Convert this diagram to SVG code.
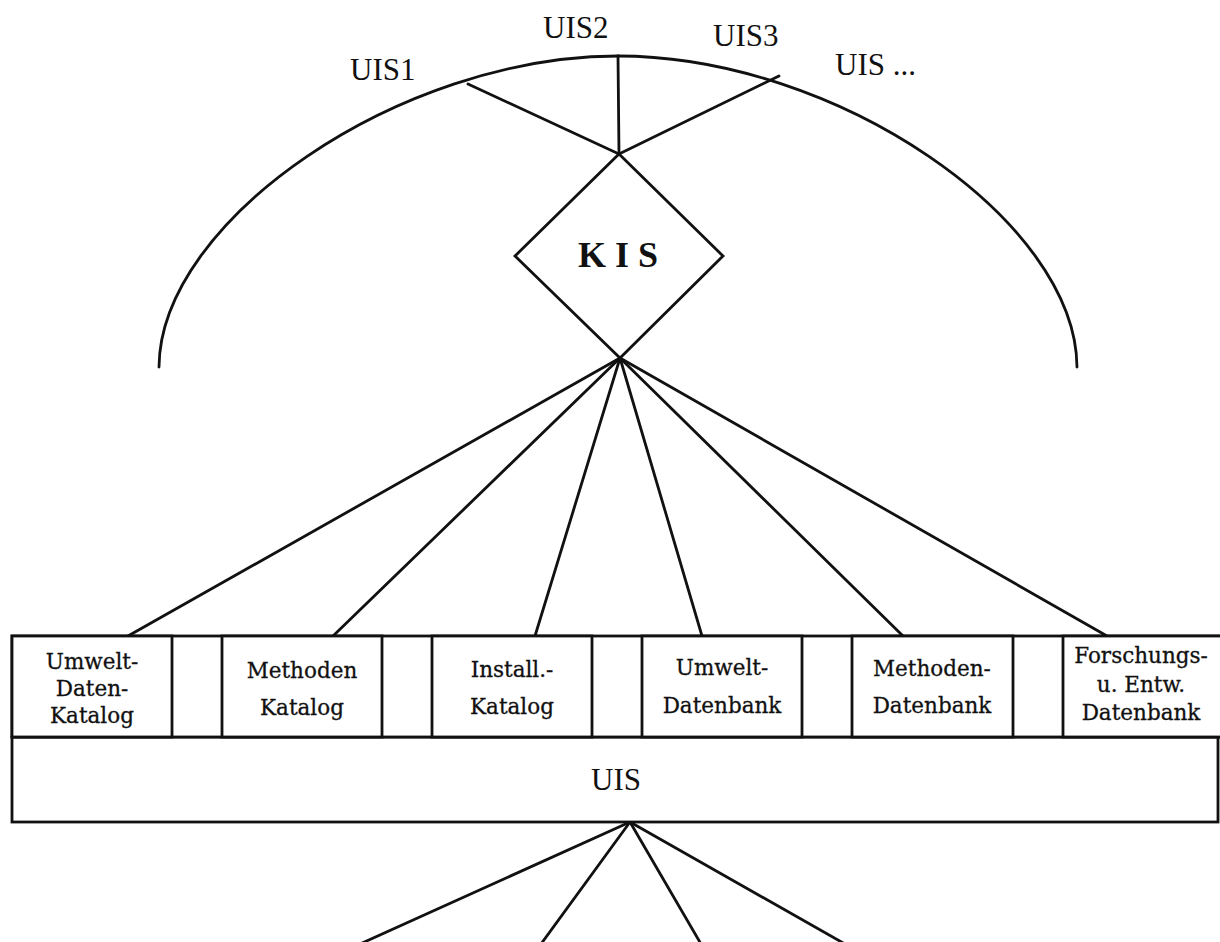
<svg xmlns="http://www.w3.org/2000/svg" width="1220" height="942" viewBox="0 0 1220 942">
  <style>
    .ln { fill: none; stroke: #111; stroke-width: 2.8; stroke-linecap: round; stroke-linejoin: round; }
    .box { fill: #fff; stroke: #111; stroke-width: 2.8; }
    .lbl { font-family: "Liberation Serif", "Times New Roman", serif; font-size: 31px; fill: #111; }
    .kis { font-family: "Liberation Serif", "Times New Roman", serif; font-size: 36px; font-weight: bold; fill: #111; text-anchor: middle; }
    .bt { font-family: "DejaVu Serif", "Liberation Serif", serif; font-size: 21.5px; fill: #111; stroke: #111; stroke-width: 0.3; text-anchor: middle; }
  </style>
  <rect width="1220" height="942" fill="#fff"/>

  <!-- network of UIS installations: arc with labels -->
  <g id="uis-network">
    <path class="ln" d="M159,367 C160,220 400,56 618,56 C836,56 1076,220 1077,367"/>
    <text class="lbl" x="350" y="80">UIS1</text>
    <text class="lbl" x="543" y="38">UIS2</text>
    <text class="lbl" x="713" y="46">UIS3</text>
    <text class="lbl" x="835" y="75">UIS ...</text>
  </g>

  <!-- connectors -->
  <g id="connectors" class="ln">
    <!-- arc to KIS -->
    <line x1="468" y1="84" x2="619" y2="154"/>
    <line x1="618" y1="56" x2="619" y2="154"/>
    <line x1="779" y1="76" x2="619" y2="154"/>
    <!-- KIS to UIS modules -->
    <line x1="620" y1="358" x2="128" y2="636"/>
    <line x1="620" y1="358" x2="333" y2="636"/>
    <line x1="620" y1="358" x2="535" y2="636"/>
    <line x1="620" y1="358" x2="702" y2="636"/>
    <line x1="620" y1="358" x2="903" y2="636"/>
    <line x1="620" y1="358" x2="1107" y2="636"/>
    <!-- UIS downwards -->
    <line x1="630" y1="822" x2="360" y2="944"/>
    <line x1="630" y1="822" x2="541" y2="944"/>
    <line x1="630" y1="822" x2="701" y2="944"/>
    <line x1="630" y1="822" x2="845" y2="944"/>
  </g>

  <!-- KIS -->
  <g id="kis">
    <polygon class="box" points="619,154 723,256 620,358 515,256"/>
    <text class="kis" x="618" y="267">K I S</text>
  </g>

  <!-- UIS base block -->
  <g id="uis">
    <rect class="box" x="12" y="737" width="1206" height="85"/>
    <rect class="box" x="12" y="636" width="1215" height="101"/>
    <text class="lbl" x="616" y="790" text-anchor="middle">UIS</text>
  </g>

  <!-- UIS modules -->
  <g id="umwelt-daten-katalog">
    <rect class="box" x="12" y="636" width="160" height="101"/>
    <text class="bt" x="92" y="669">Umwelt-</text>
    <text class="bt" x="92" y="696">Daten-</text>
    <text class="bt" x="92" y="723">Katalog</text>
  </g>
  <g id="methoden-katalog">
    <rect class="box" x="222" y="636" width="160" height="101"/>
    <text class="bt" x="302" y="678">Methoden</text>
    <text class="bt" x="302" y="715">Katalog</text>
  </g>
  <g id="install-katalog">
    <rect class="box" x="432" y="636" width="160" height="101"/>
    <text class="bt" x="512" y="677">Install.-</text>
    <text class="bt" x="512" y="714">Katalog</text>
  </g>
  <g id="umwelt-datenbank">
    <rect class="box" x="642" y="636" width="160" height="101"/>
    <text class="bt" x="722" y="675">Umwelt-</text>
    <text class="bt" x="722" y="713">Datenbank</text>
  </g>
  <g id="methoden-datenbank">
    <rect class="box" x="852" y="636" width="161" height="101"/>
    <text class="bt" x="932" y="676">Methoden-</text>
    <text class="bt" x="932" y="713">Datenbank</text>
  </g>
  <g id="fue-datenbank">
    <rect class="box" x="1063" y="636" width="164" height="101"/>
    <text class="bt" x="1141" y="663">Forschungs-</text>
    <text class="bt" x="1141" y="692">u. Entw.</text>
    <text class="bt" x="1141" y="720">Datenbank</text>
  </g>
</svg>
